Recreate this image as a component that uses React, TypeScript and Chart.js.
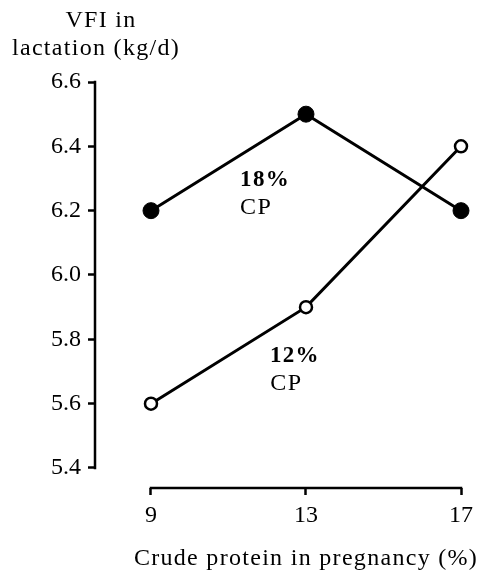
import { useEffect, useRef } from "react";
import { Chart, registerables } from "chart.js";

Chart.register(...registerables);

// Crude protein in pregnancy (%)
const proteinLevels = [9, 13, 17];
// Voluntary feed intake in lactation (kg/d) for each lactation diet
const vfi18CP = [6.2, 6.5, 6.2];
const vfi12CP = [5.6, 5.9, 6.4];
// Axis ticks
const xTickValues = [9, 13, 17];
const yTickValues = [5.4, 5.6, 5.8, 6.0, 6.2, 6.4, 6.6];

const FONT = '"Liberation Serif", "Times New Roman", serif';
const INK = "#000";

// Axis lines that stop at the first/last tick (detached axes)
const axisLines = {
  id: "axisLines",
  afterDraw(chart: any) {
    const { ctx, chartArea, scales } = chart;
    const x = scales.x;
    const y = scales.y;
    ctx.save();
    ctx.strokeStyle = INK;
    ctx.lineWidth = 2.5;
    ctx.lineCap = "butt";
    ctx.beginPath();
    ctx.moveTo(chartArea.left, y.getPixelForValue(yTickValues[yTickValues.length - 1]) - 1.25);
    ctx.lineTo(chartArea.left, y.getPixelForValue(yTickValues[0]) + 1.25);
    ctx.stroke();
    ctx.beginPath();
    ctx.moveTo(x.getPixelForValue(xTickValues[0]) - 1.25, chartArea.bottom);
    ctx.lineTo(x.getPixelForValue(xTickValues[xTickValues.length - 1]) + 1.25, chartArea.bottom);
    ctx.stroke();
    ctx.restore();
  },
};

// Axis titles and series labels
const textLayer = {
  id: "textLayer",
  afterDraw(chart: any) {
    const { ctx, chartArea, scales } = chart;
    const x = scales.x;
    const y = scales.y;
    ctx.save();
    ctx.fillStyle = INK;
    ctx.textBaseline = "alphabetic";
    (ctx as any).letterSpacing = "1.3px";
    ctx.font = `24px ${FONT}`;

    ctx.textAlign = "center";
    ctx.fillText("VFI in", chartArea.left + 6, 27);
    ctx.fillText("lactation (kg/d)", chartArea.left + 1, 55);
    ctx.fillText("Crude protein in pregnancy (%)", x.getPixelForValue(13), 565);

    ctx.textAlign = "left";
    ctx.font = `bold 23px ${FONT}`;
    ctx.fillText("18%", x.getPixelForValue(11.3), y.getPixelForValue(6.277));
    ctx.fillText("12%", x.getPixelForValue(12.07), y.getPixelForValue(5.73));
    ctx.font = `24px ${FONT}`;
    ctx.fillText("CP", x.getPixelForValue(11.3), y.getPixelForValue(6.19));
    ctx.fillText("CP", x.getPixelForValue(12.08), y.getPixelForValue(5.6425));
    ctx.restore();
  },
};

export default function App() {
  const canvasRef = useRef<HTMLCanvasElement | null>(null);

  useEffect(() => {
    const canvas = canvasRef.current;
    if (!canvas) return;

    const tickGrid = {
      drawOnChartArea: false,
      drawTicks: true,
      tickLength: 7,
      tickWidth: 2.5,
      tickColor: INK,
      color: INK,
    };

    const chart = new Chart(canvas, {
      type: "line",
      data: {
        datasets: [
          {
            label: "18% CP",
            data: proteinLevels.map((p, i) => ({ x: p, y: vfi18CP[i] })),
            borderColor: INK,
            borderWidth: 3,
            pointRadius: 8,
            pointBackgroundColor: INK,
            pointBorderColor: INK,
            pointBorderWidth: 1,
            clip: false,
          },
          {
            label: "12% CP",
            data: proteinLevels.map((p, i) => ({ x: p, y: vfi12CP[i] })),
            borderColor: INK,
            borderWidth: 3,
            pointRadius: 6,
            pointBackgroundColor: "#fff",
            pointBorderColor: INK,
            pointBorderWidth: 2.5,
            clip: false,
          },
        ],
      },
      options: {
        animation: false,
        responsive: false,
        layout: { padding: { top: 82, right: 21, left: 0, bottom: 0 } },
        plugins: {
          legend: { display: false },
          tooltip: { enabled: false },
          title: { display: false },
        },
        scales: {
          x: {
            type: "linear",
            min: 7.555,
            max: 17,
            afterBuildTicks: (s: any) => {
              s.ticks = xTickValues.map((v) => ({ value: v }));
            },
            afterFit: (s: any) => {
              s.height = 85;
            },
            grid: tickGrid,
            border: { display: false },
            ticks: {
              color: INK,
              font: { family: FONT, size: 24 },
              padding: 6,
              maxRotation: 0,
              autoSkip: false,
              callback: (v: any) => String(v),
            },
          },
          y: {
            type: "linear",
            min: 5.3378,
            max: 6.6,
            afterBuildTicks: (s: any) => {
              s.ticks = yTickValues.map((v) => ({ value: v }));
            },
            afterFit: (s: any) => {
              s.width = 95;
            },
            grid: tickGrid,
            border: { display: false },
            ticks: {
              color: INK,
              font: { family: FONT, size: 24 },
              padding: 7,
              autoSkip: false,
              callback: (v: any) => Number(v).toFixed(1),
            },
          },
        },
      },
      plugins: [axisLines, textLayer],
    });

    return () => chart.destroy();
  }, []);

  return (
    <div style={{ position: "fixed", left: 0, top: 0, width: 482, height: 573, background: "#fff" }}>
      <canvas ref={canvasRef} width={482} height={573} style={{ display: "block" }} />
    </div>
  );
}
